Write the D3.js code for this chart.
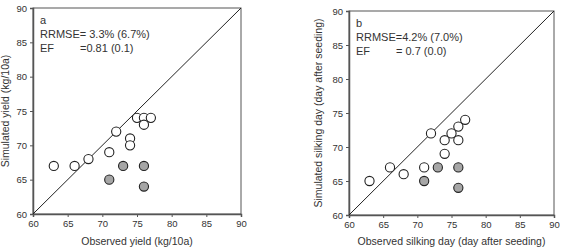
<!DOCTYPE html>
<html>
<head>
<meta charset="utf-8">
<script src="https://cdn.jsdelivr.net/npm/d3@7"></script>
<style>
  body { margin: 0; background: #fff; }
  svg text { font-family: Arial, "Liberation Sans", sans-serif; fill: #333; }
</style>
</head>
<body>
<div id="chart"></div>
<script>
// panel a: yield
const yieldOpenObs = [63, 66, 68, 71, 72, 74, 74, 75, 76, 76, 77];
const yieldOpenSim = [67, 67, 68, 69, 72, 71, 70, 74, 74, 73, 74];
const yieldFillObs = [71, 73, 76, 76];
const yieldFillSim = [65, 67, 67, 64];

// panel b: silking day
const silkOpenObs = [63, 66, 68, 71, 72, 74, 74, 75, 76, 76, 77];
const silkOpenSim = [65, 67, 66, 67, 72, 71, 69, 72, 73, 71, 74];
const silkFillObs = [71, 73, 76, 76];
const silkFillSim = [65, 67, 67, 64];

const tickValues = [60, 65, 70, 75, 80, 85, 90];

const panels = [
  {
    left: 33, top: 8, w: 208, h: 206,
    openX: yieldOpenObs, openY: yieldOpenSim, fillX: yieldFillObs, fillY: yieldFillSim,
    label: "a", stat1: "RRMSE= 3.3% (6.7%)", stat2lbl: "EF", stat2: "=0.81 (0.1)",
    xTitle: "Observed yield (kg/10a)", yTitle: "Simulated yield (kg/10a)", yTitleX: 9
  },
  {
    left: 349, top: 11, w: 205, h: 204,
    openX: silkOpenObs, openY: silkOpenSim, fillX: silkFillObs, fillY: silkFillSim,
    label: "b", stat1: "RRMSE=4.2%  (7.0%)", stat2lbl: "EF", stat2: "= 0.7 (0.0)",
    xTitle: "Observed silking day (day after seeding)", yTitle: "Simulated silking day (day after seeding)", yTitleX: 322
  }
];

const svg = d3.select("#chart").append("svg")
  .attr("width", 561)
  .attr("height", 252);

const axisColor = "#555";

panels.forEach(p => {
  const x = d3.scaleLinear().domain([60, 90]).range([0, p.w]);
  const y = d3.scaleLinear().domain([60, 90]).range([p.h, 0]);

  const g = svg.append("g").attr("transform", `translate(${p.left},${p.top})`);

  // frame
  g.append("rect")
    .attr("width", p.w).attr("height", p.h)
    .attr("fill", "none").attr("stroke", axisColor).attr("stroke-width", 1);

  const xa = g.append("g")
    .attr("transform", `translate(0,${p.h})`)
    .call(d3.axisBottom(x).tickValues(tickValues).tickSize(3).tickPadding(3));
  const ya = g.append("g")
    .call(d3.axisLeft(y).tickValues(tickValues).tickSize(3).tickPadding(3));
  [xa, ya].forEach(a => {
    a.select(".domain").attr("stroke", axisColor).attr("stroke-width", 1.5);
    a.selectAll(".tick line").attr("stroke", axisColor);
    a.selectAll(".tick text").attr("font-size", 9.5).attr("fill", "#333")
      .attr("font-family", "Arial, 'Liberation Sans', sans-serif");
  });

  // 1:1 line
  g.append("line")
    .attr("x1", x(60)).attr("y1", y(60))
    .attr("x2", x(90)).attr("y2", y(90))
    .attr("stroke", "#222").attr("stroke-width", 1);

  const open = p.openX.map((v, i) => [v, p.openY[i]]);
  const filled = p.fillX.map((v, i) => [v, p.fillY[i]]);

  g.selectAll(".open").data(open).enter().append("circle")
    .attr("class", "open")
    .attr("cx", d => x(d[0])).attr("cy", d => y(d[1]))
    .attr("r", 4.6)
    .attr("fill", "#fff").attr("stroke", "#222").attr("stroke-width", 1.1);

  g.selectAll(".filled").data(filled).enter().append("circle")
    .attr("class", "filled")
    .attr("cx", d => x(d[0])).attr("cy", d => y(d[1]))
    .attr("r", 4.6)
    .attr("fill", "#a6a6a6").attr("stroke", "#222").attr("stroke-width", 1.1);

  // annotations
  const tx = 7;
  g.append("text").attr("x", tx).attr("y", 16).attr("font-size", 11).text(p.label);
  g.append("text").attr("x", tx).attr("y", 30).attr("font-size", 11).text(p.stat1);
  g.append("text").attr("x", tx).attr("y", 44).attr("font-size", 11).text(p.stat2lbl);
  g.append("text").attr("x", tx + 40).attr("y", 44).attr("font-size", 11).text(p.stat2);

  // axis titles
  svg.append("text")
    .attr("x", p.left + p.w / 2).attr("y", 245)
    .attr("text-anchor", "middle").attr("font-size", 10.5)
    .text(p.xTitle);
  svg.append("text")
    .attr("transform", `translate(${p.yTitleX},${p.top + p.h / 2}) rotate(-90)`)
    .attr("text-anchor", "middle").attr("font-size", 10.5)
    .text(p.yTitle);
});
</script>
</body>
</html>
